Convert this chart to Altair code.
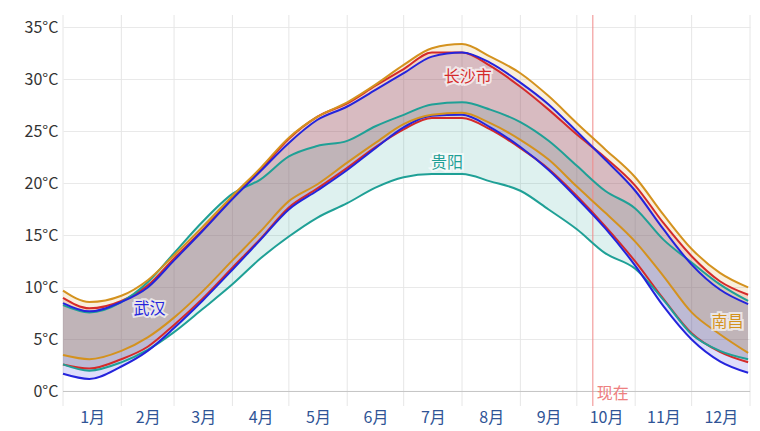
import altair as alt
import pandas as pd

# ---------------- data ----------------
cities = ["长沙市", "贵阳", "武汉", "南昌"]
colors = ["#d42a2a", "#1fa096", "#2424dc", "#d4921e"]

# day of year (0 = Jan 1)
days = [0, 14, 31, 45, 59, 74, 90, 105, 120, 135, 151, 166, 181, 196, 212,
        227, 243, 258, 273, 288, 304, 319, 334, 349, 364]

changsha_high = [9.0, 8.0, 8.7, 10.2, 12.8, 15.5, 18.6, 21.3, 24.3, 26.4, 27.7, 29.4, 31.0,
                 32.6, 32.6, 31.3, 29.3, 27.1, 24.7, 22.5, 19.8, 16.2, 13.0, 10.6, 9.3]
changsha_low = [2.6, 2.2, 3.1, 4.3, 6.4, 8.9, 11.9, 14.7, 17.7, 19.5, 21.5, 23.5, 25.2,
                26.3, 26.3, 25.2, 23.4, 21.4, 18.8, 15.9, 12.5, 8.9, 5.6, 3.8, 2.8]

guiyang_high = [8.3, 7.6, 8.6, 10.5, 13.3, 16.3, 19.0, 20.4, 22.6, 23.6, 24.1, 25.5, 26.6,
                27.6, 27.8, 27.1, 25.9, 24.1, 21.7, 19.3, 17.6, 14.6, 12.4, 10.3, 8.7]
guiyang_low = [2.6, 2.0, 2.8, 4.0, 5.7, 7.9, 10.3, 12.8, 14.9, 16.7, 18.1, 19.6, 20.6,
               20.9, 20.9, 20.2, 19.3, 17.5, 15.6, 13.3, 11.8, 8.8, 5.5, 3.9, 3.1]

wuhan_high = [8.5, 7.7, 8.6, 10.0, 12.6, 15.4, 18.5, 21.2, 23.9, 26.1, 27.4, 29.0, 30.6,
              32.2, 32.6, 31.6, 29.7, 27.6, 25.0, 22.3, 19.3, 15.6, 12.2, 9.8, 8.4]
wuhan_low = [1.7, 1.2, 2.4, 3.9, 6.1, 8.7, 11.7, 14.6, 17.5, 19.3, 21.3, 23.4, 25.4,
             26.5, 26.6, 25.4, 23.5, 21.3, 18.6, 15.7, 12.1, 8.2, 5.0, 2.9, 1.8]

nanchang_high = [9.7, 8.6, 9.2, 10.7, 13.1, 15.8, 18.8, 21.5, 24.4, 26.4, 27.8, 29.5, 31.4,
                 33.0, 33.4, 32.2, 30.6, 28.4, 25.8, 23.3, 20.6, 17.0, 13.7, 11.4, 10.0]
nanchang_low = [3.5, 3.1, 3.9, 5.2, 7.1, 9.6, 12.6, 15.4, 18.3, 19.9, 22.0, 23.9, 25.7,
                26.6, 26.8, 25.8, 24.2, 22.3, 19.7, 17.2, 14.4, 11.1, 7.6, 5.5, 3.7]

highs = [changsha_high, guiyang_high, wuhan_high, nanchang_high]
lows = [changsha_low, guiyang_low, wuhan_low, nanchang_low]

month_labels = ["1月", "2月", "3月", "4月", "5月", "6月", "7月", "8月", "9月", "10月", "11月", "12月"]
month_starts = [0, 31, 59, 90, 120, 151, 181, 212, 243, 273, 304, 334, 365]
y_ticks = [0, 5, 10, 15, 20, 25, 30, 35]

now_day = [281.5]
now_text = ["现在"]

label_days = [215, 204, 46, 353]
label_temps = [30.2, 22.0, 7.9, 6.7]

# ---------------- tables ----------------
rows = []
lines = []
for c, hi, lo in zip(cities, highs, lows):
    for d, h, l in zip(days, hi, lo):
        rows.append({"city": c, "day": d, "high": h, "low": l})
        lines.append({"city": c, "series": c + "高", "day": d, "temp": h})
        lines.append({"city": c, "series": c + "低", "day": d, "temp": l})
df = pd.DataFrame(rows)
dl = pd.DataFrame(lines)

centers = [(a + b) / 2 for a, b in zip(month_starts[:-1], month_starts[1:])]
lab_expr = "[" + ",".join("'" + m + "'" for m in month_labels) + "][indexof([" + \
    ",".join(str(c) for c in centers) + "], datum.value)]"

grid_df = pd.DataFrame({"day": month_starts})
now_df = pd.DataFrame({"day": now_day, "label": now_text, "t": [0]})
lab_df = pd.DataFrame({"city": cities, "day": label_days, "temp": label_temps})

FONT = "Noto Sans CJK SC"

xscale = alt.Scale(domain=[0, 365], nice=False, zero=False)
yscale = alt.Scale(domain=[-1.4, 36.2], nice=False, zero=False)
xaxis = alt.Axis(values=centers, labelExpr=lab_expr, grid=False, ticks=False, domain=False,
                 title=None, labelFontSize=16, labelColor="#2f5496", labelPadding=3,
                 labelFont=FONT)
yaxis = alt.Axis(values=y_ticks, labelExpr="datum.value + '°C'", grid=True, gridColor="#e9e9e9",
                 ticks=False, domain=False, title=None, labelFontSize=16, labelColor="#333333",
                 labelPadding=5, labelFont=FONT)
cscale = alt.Scale(domain=cities, range=colors)


def X(f):
    return alt.X(f, type="quantitative", scale=xscale, axis=xaxis)


def Y(f):
    return alt.Y(f, type="quantitative", scale=yscale, axis=yaxis)


vgrid = alt.Chart(grid_df).mark_rule(color="#e6e6e6", strokeWidth=1).encode(x=X("day"))

areas = alt.Chart(df).mark_area(interpolate="monotone", opacity=0.15).encode(
    x=X("day"), y=Y("low"), y2="high",
    color=alt.Color("city:N", scale=cscale, legend=None),
)

zero = alt.Chart(pd.DataFrame({"t": [0]})).mark_rule(color="#c4c4c4", strokeWidth=1).encode(
    y=Y("t"))

now_rule = alt.Chart(now_df).mark_rule(color="#f08a8a", strokeWidth=1).encode(x=X("day"))
now_lab = alt.Chart(now_df).mark_text(align="left", baseline="top", dx=4, dy=-5,
                                      color="#ee8080", fontSize=16, font=FONT).encode(
    x=X("day"), y=Y("t"), text="label:N")

line_layer = alt.Chart(dl).mark_line(interpolate="monotone", strokeWidth=2).encode(
    x=X("day"), y=Y("temp"),
    color=alt.Color("city:N", scale=cscale, legend=None),
    detail="series:N",
)

halo = alt.Chart(lab_df).mark_text(fontSize=16, font=FONT, stroke="white", strokeWidth=4,
                                   strokeOpacity=0.8, fill="white", opacity=0.85).encode(
    x=X("day"), y=Y("temp"), text="city:N")
labels = alt.Chart(lab_df).mark_text(fontSize=16, font=FONT).encode(
    x=X("day"), y=Y("temp"), text="city:N",
    color=alt.Color("city:N", scale=cscale, legend=None))

chart = alt.layer(vgrid, areas, zero, now_rule, line_layer, now_lab, halo, labels).properties(
    width=687, height=391,
    autosize=alt.AutoSizeParams(type="none"),
    padding={"left": 55, "top": 7, "right": 2, "bottom": 21},
    background="white",
).configure_view(stroke=None)

chart.save("out.html", embed_options={"renderer": "svg", "actions": False})
